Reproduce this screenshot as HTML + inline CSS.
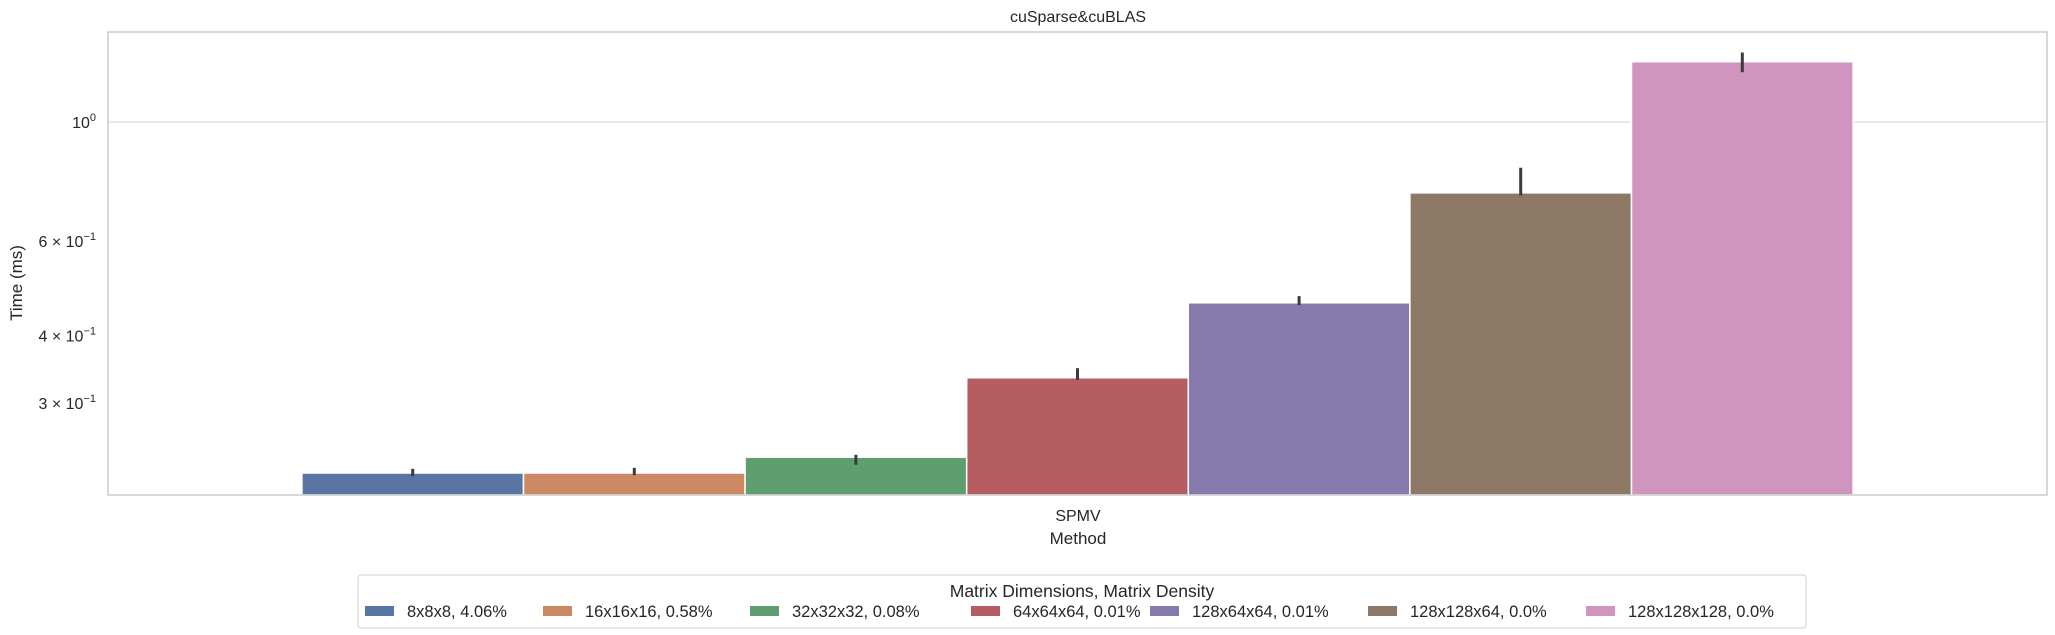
<!DOCTYPE html>
<html><head><meta charset="utf-8"><style>
body{margin:0;background:#fff;}
svg{display:block;font-family:"Liberation Sans","DejaVu Sans",sans-serif;}
</style></head><body>
<svg id="chart" width="2055" height="635" viewBox="0 0 2055 635">
<text x="1078" y="22" text-anchor="middle" font-size="16" fill="#262626">cuSparse&amp;cuBLAS</text>
<g id="grid"></g>
<g id="bars"></g>
<g id="errs"></g>
<rect x="108" y="32" width="1939" height="463" fill="none" stroke="#cccccc" stroke-width="1.5"/>
<g id="yticks"></g>
<text x="1078" y="521" text-anchor="middle" font-size="16" fill="#262626">SPMV</text>
<text x="1078" y="544" text-anchor="middle" font-size="17" fill="#262626">Method</text>
<text transform="translate(22,283) rotate(-90)" text-anchor="middle" font-size="17" fill="#262626">Time (ms)</text>
<g>
<rect x="358" y="575" width="1448" height="53" rx="3" fill="#fff" stroke="#d0d0d0"/>
<text x="1082" y="597" text-anchor="middle" font-size="17.5" fill="#262626">Matrix Dimensions, Matrix Density</text>
<g id="legend"></g>
</g>
</svg>
<script>
const categories = ["8x8x8, 4.06%","16x16x16, 0.58%","32x32x32, 0.08%","64x64x64, 0.01%","128x64x64, 0.01%","128x128x64, 0.0%","128x128x128, 0.0%"];
const values = [0.222, 0.222, 0.2376, 0.334, 0.4606, 0.738, 1.295];
const errLow = [0.219, 0.220, 0.230, 0.331, 0.456, 0.730, 1.238];
const errHigh = [0.226, 0.227, 0.240, 0.348, 0.474, 0.822, 1.347];
const colors = ["#5875a4","#cc8963","#5f9e6e","#b55d60","#857aab","#8d7866","#d095bf"];
const yTickVals = [1, 0.6, 0.4, 0.3];
const yTickLabels = [["10","0"],["6 × 10","−1"],["4 × 10","−1"],["3 × 10","−1"]];
const legendX = [365, 543, 750, 971, 1150, 1368, 1586];

const NS = "http://www.w3.org/2000/svg";
const plotL = 108, plotR = 2047, plotB = 495;
function y(v){ return 122 - 537*Math.log10(v); }
const groupW = (plotR - plotL)*0.8;
const barW = groupW / categories.length;
const startX = (plotL+plotR)/2 - groupW/2;
function x(i){ return startX + i*barW; }
function mk(tag, attrs, parent){ const e=document.createElementNS(NS,tag); for(const k in attrs) e.setAttribute(k,attrs[k]); parent.appendChild(e); return e; }

const grid=document.getElementById('grid'), yt=document.getElementById('yticks');
yTickVals.forEach((v,i)=>{
  if(v===1){ const gl=mk('line',{x1:plotL,x2:plotR,y1:y(v),y2:y(v),stroke:'#d9d9d9','stroke-width':1.3},grid);
    
     }
  const t=mk('text',{x:96,y:y(v)+6,'text-anchor':'end','font-size':16,fill:'#262626'},yt);
  
  
  t.textContent=yTickLabels[i][0];
  const s=mk('tspan',{dy:-7,'font-size':11},t); s.textContent=yTickLabels[i][1];
});
const bars=document.getElementById('bars'), errs=document.getElementById('errs'), leg=document.getElementById('legend');
values.forEach((v,i)=>{
  const r=mk('rect',{x:x(i),y:y(v),width:barW,height:plotB-y(v),fill:colors[i],stroke:'#fff','stroke-width':1.5},bars);
  
  
  const e=mk('line',{x1:x(i)+barW/2,x2:x(i)+barW/2,y1:y(errHigh[i]),y2:y(errLow[i]),stroke:'#3b3b3b','stroke-width':3},errs);
  
  
  const sw=mk('rect',{x:legendX[i],y:606,width:29,height:10,fill:colors[i]},leg);
  
  
  const lt=mk('text',{x:legendX[i]+42,y:617,'font-size':16.5,fill:'#262626'},leg);
  
  
  lt.textContent=categories[i];
});
</script>
</body></html>
